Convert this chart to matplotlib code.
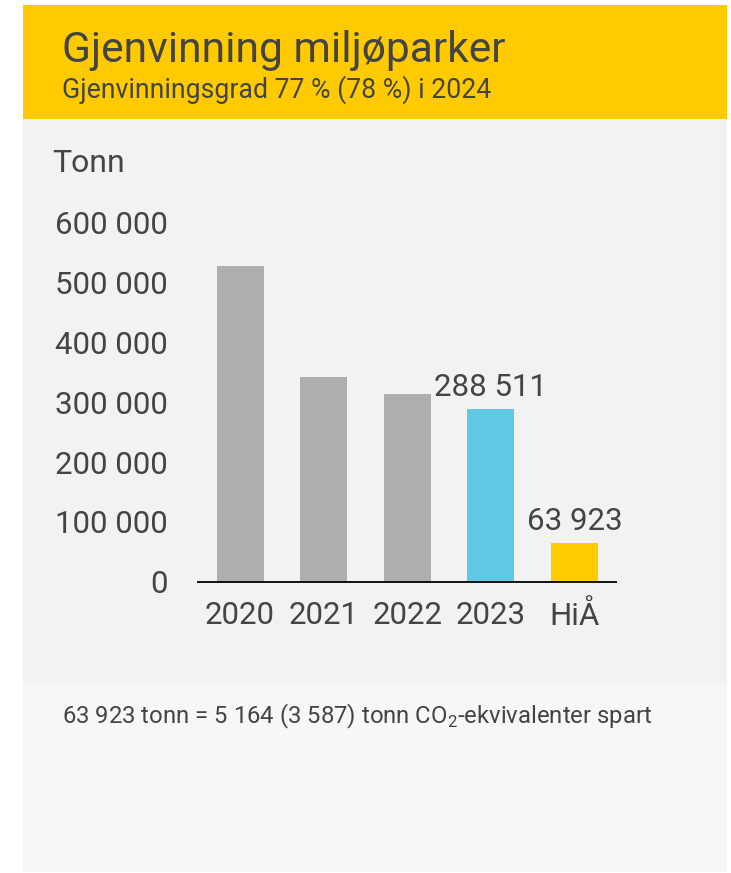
import matplotlib
matplotlib.use("Agg")
import matplotlib.pyplot as plt
from matplotlib.patches import Rectangle

plt.rcParams['font.family'] = ['Roboto', 'DejaVu Sans']
plt.rcParams['mathtext.fontset'] = 'custom'
plt.rcParams['mathtext.rm'] = 'Roboto'

categories = ["2020", "2021", "2022", "2023", "HiÅ"]
values = [528000, 343000, 314000, 288511, 63923]
bar_colors = ["#AEAEAE", "#AEAEAE", "#AEAEAE", "#5EC8E5", "#FFCC00"]
value_labels = {3: "288 511", 4: "63 923"}
y_ticks = [0, 100000, 200000, 300000, 400000, 500000, 600000]
y_tick_labels = ["0", "100 000", "200 000", "300 000", "400 000", "500 000", "600 000"]

title = "Gjenvinning miljøparker"
subtitle = "Gjenvinningsgrad 77 % (78 %) i 2024"
unit = "Tonn"
footer = r"63 923 tonn = 5 164 (3 587) tonn CO$_\mathrm{2}$-ekvivalenter spart"

TXT = "#444444"
W, H = 731, 873
fig = plt.figure(figsize=(W / 100, H / 100), dpi=100)
fig.patch.set_facecolor("white")

def px_rect(x0, y0, x1, y1, color):
    fig.add_artist(Rectangle((x0 / W, 1 - y1 / H), (x1 - x0) / W, (y1 - y0) / H,
                             transform=fig.transFigure, facecolor=color,
                             edgecolor="none", zorder=-10))

px_rect(23, 5, 727, 118.5, "#FFCB00")
px_rect(23, 118.5, 727, 684, "#F2F2F2")
px_rect(23, 684, 727, 872, "#F7F7F7")

def ftext(x, y, s, size, **kw):
    fig.text(x / W, 1 - y / H, s, fontsize=size, color=TXT, **kw)

ftext(62, 62.3, title, 30.7, va="baseline", ha="left")
ftext(62, 97.3, subtitle, 19.2, va="baseline", ha="left")
ftext(52, 172.3, unit, 23, va="baseline", ha="left")
ftext(62, 723.3, footer, 17.2, va="baseline", ha="left")

ax_left, ax_right = 198, 616
ax_bottom, ax_top = 581.7, 222.9
ax = fig.add_axes([ax_left / W, 1 - ax_bottom / H, (ax_right - ax_left) / W, (ax_bottom - ax_top) / H])
ax.set_facecolor("none")
ax.set_zorder(5)
x = list(range(len(categories)))
bars = ax.bar(x, values, width=0.563, color=bar_colors, zorder=2)
ax.set_xlim(-0.503, 4.497)
ax.set_ylim(0, 600000)
for s in ["top", "right", "left"]:
    ax.spines[s].set_visible(False)
ax.spines["bottom"].set_color("#111111")
ax.spines["bottom"].set_linewidth(1.4)
ax.spines["bottom"].set_zorder(3)
ax.set_yticks(y_ticks)
ax.set_yticklabels(y_tick_labels)
ax.set_xticks(x)
ax.set_xticklabels(categories)
ax.tick_params(axis="y", length=0, pad=22, labelsize=22.5, labelcolor=TXT)
ax.tick_params(axis="x", length=0, pad=14, labelsize=22.5, labelcolor=TXT)
for i, lab in value_labels.items():
    ax.annotate(lab, (x[i], values[i]), xytext=(0, 9.5), textcoords="offset points",
                ha="center", va="baseline", fontsize=22.5, color=TXT)

fig.savefig("out.png", dpi=100)
